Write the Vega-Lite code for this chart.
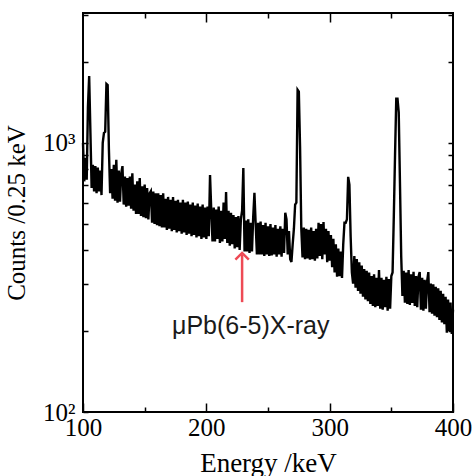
{
  "$schema": "https://vega.github.io/schema/vega-lite/v6.json",
  "width": 370,
  "height": 399,
  "autosize": {"type": "none"},
  "padding": {"left": 83, "top": 13, "right": 20, "bottom": 64},
  "background": "white",
  "config": {
    "view": {"stroke": "black", "strokeWidth": 2},
    "axis": {"domain": false, "grid": false, "tickColor": "black", "tickWidth": 1.5, "labelColor": "black", "titleColor": "black", "labelFont": "Liberation Serif", "titleFont": "Liberation Serif", "titleFontWeight": "normal"}
  },
  "datasets": {
    "spectrum": [
      {"energy":100,"counts":1000},{"energy":101,"counts":720},{"energy":102,"counts":880},{"energy":103,"counts":730},{"energy":104,"counts":1360},{"energy":105,"counts":1774},{"energy":106,"counts":1100},{"energy":107,"counts":680},{"energy":108,"counts":830},{"energy":109,"counts":660},
      {"energy":110,"counts":820},{"energy":111,"counts":650},{"energy":112,"counts":810},{"energy":113,"counts":660},{"energy":114,"counts":790},{"energy":115,"counts":640},{"energy":116,"counts":1000},{"energy":117,"counts":1090},{"energy":118,"counts":1100},{"energy":119,"counts":1656},
      {"energy":120,"counts":1640},{"energy":121,"counts":950},{"energy":122,"counts":650},{"energy":123,"counts":800},{"energy":124,"counts":620},{"energy":125,"counts":830},{"energy":126,"counts":610},{"energy":127,"counts":866},{"energy":128,"counts":600},{"energy":129,"counts":790},
      {"energy":130,"counts":605},{"energy":131,"counts":770},{"energy":132,"counts":820},{"energy":133,"counts":590},{"energy":134,"counts":750},{"energy":135,"counts":580},{"energy":136,"counts":740},{"energy":137,"counts":585},{"energy":138,"counts":750},{"energy":139,"counts":570},
      {"energy":140,"counts":772},{"energy":141,"counts":560},{"energy":142,"counts":700},{"energy":143,"counts":545},{"energy":144,"counts":720},{"energy":145,"counts":545},{"energy":146,"counts":740},{"energy":147,"counts":535},{"energy":148,"counts":690},{"energy":149,"counts":530},
      {"energy":150,"counts":700},{"energy":151,"counts":525},{"energy":152,"counts":680},{"energy":153,"counts":520},{"energy":154,"counts":650},{"energy":155,"counts":662},{"energy":156,"counts":505},{"energy":157,"counts":660},{"energy":158,"counts":500},{"energy":159,"counts":650},
      {"energy":160,"counts":495},{"energy":161,"counts":650},{"energy":162,"counts":490},{"energy":163,"counts":640},{"energy":164,"counts":485},{"energy":165,"counts":650},{"energy":166,"counts":485},{"energy":167,"counts":620},{"energy":168,"counts":475},{"energy":169,"counts":630},
      {"energy":170,"counts":480},{"energy":171,"counts":615},{"energy":172,"counts":470},{"energy":173,"counts":630},{"energy":174,"counts":475},{"energy":175,"counts":610},{"energy":176,"counts":465},{"energy":177,"counts":615},{"energy":178,"counts":470},{"energy":179,"counts":600},
      {"energy":180,"counts":460},{"energy":181,"counts":615},{"energy":182,"counts":465},{"energy":183,"counts":600},{"energy":184,"counts":455},{"energy":185,"counts":605},{"energy":186,"counts":460},{"energy":187,"counts":590},{"energy":188,"counts":450},{"energy":189,"counts":600},
      {"energy":190,"counts":455},{"energy":191,"counts":585},{"energy":192,"counts":445},{"energy":193,"counts":595},{"energy":194,"counts":450},{"energy":195,"counts":580},{"energy":196,"counts":440},{"energy":197,"counts":590},{"energy":198,"counts":445},{"energy":199,"counts":575},
      {"energy":200,"counts":440},{"energy":201,"counts":580},{"energy":202,"counts":450},{"energy":203,"counts":760},{"energy":204,"counts":560},{"energy":205,"counts":430},{"energy":206,"counts":575},{"energy":207,"counts":430},{"energy":208,"counts":565},{"energy":209,"counts":440},
      {"energy":210,"counts":580},{"energy":211,"counts":425},{"energy":212,"counts":560},{"energy":213,"counts":430},{"energy":214,"counts":600},{"energy":215,"counts":440},{"energy":216,"counts":657},{"energy":217,"counts":425},{"energy":218,"counts":560},{"energy":219,"counts":415},
      {"energy":220,"counts":550},{"energy":221,"counts":420},{"energy":222,"counts":540},{"energy":223,"counts":405},{"energy":224,"counts":530},{"energy":225,"counts":410},{"energy":226,"counts":535},{"energy":227,"counts":400},{"energy":228,"counts":520},{"energy":229,"counts":560},
      {"energy":230,"counts":807},{"energy":231,"counts":395},{"energy":232,"counts":515},{"energy":233,"counts":395},{"energy":234,"counts":520},{"energy":235,"counts":390},{"energy":236,"counts":505},{"energy":237,"counts":395},{"energy":238,"counts":530},{"energy":239,"counts":652},
      {"energy":240,"counts":500},{"energy":241,"counts":385},{"energy":242,"counts":505},{"energy":243,"counts":385},{"energy":244,"counts":510},{"energy":245,"counts":385},{"energy":246,"counts":495},{"energy":247,"counts":380},{"energy":248,"counts":505},{"energy":249,"counts":385},
      {"energy":250,"counts":490},{"energy":251,"counts":380},{"energy":252,"counts":500},{"energy":253,"counts":382},{"energy":254,"counts":485},{"energy":255,"counts":385},{"energy":256,"counts":495},{"energy":257,"counts":378},{"energy":258,"counts":480},{"energy":259,"counts":385},
      {"energy":260,"counts":490},{"energy":261,"counts":378},{"energy":262,"counts":480},{"energy":263,"counts":390},{"energy":264,"counts":550},{"energy":265,"counts":520},{"energy":266,"counts":385},{"energy":267,"counts":470},{"energy":268,"counts":370},{"energy":269,"counts":361},
      {"energy":270,"counts":420},{"energy":271,"counts":480},{"energy":272,"counts":590},{"energy":273,"counts":600},{"energy":274,"counts":1574},{"energy":275,"counts":1550},{"energy":276,"counts":966},{"energy":277,"counts":480},{"energy":278,"counts":375},{"energy":279,"counts":485},
      {"energy":280,"counts":370},{"energy":281,"counts":480},{"energy":282,"counts":372},{"energy":283,"counts":475},{"energy":284,"counts":368},{"energy":285,"counts":485},{"energy":286,"counts":370},{"energy":287,"counts":470},{"energy":288,"counts":365},{"energy":289,"counts":480},
      {"energy":290,"counts":372},{"energy":291,"counts":505},{"energy":292,"counts":380},{"energy":293,"counts":500},{"energy":294,"counts":370},{"energy":295,"counts":508},{"energy":296,"counts":385},{"energy":297,"counts":480},{"energy":298,"counts":360},{"energy":299,"counts":470},
      {"energy":300,"counts":365},{"energy":301,"counts":455},{"energy":302,"counts":345},{"energy":303,"counts":440},{"energy":304,"counts":330},{"energy":305,"counts":420},{"energy":306,"counts":318},{"energy":307,"counts":405},{"energy":308,"counts":320},{"energy":309,"counts":395},
      {"energy":310,"counts":315},{"energy":311,"counts":420},{"energy":312,"counts":505},{"energy":313,"counts":505},{"energy":314,"counts":520},{"energy":315,"counts":748},{"energy":316,"counts":700},{"energy":317,"counts":450},{"energy":318,"counts":330},{"energy":319,"counts":300},
      {"energy":320,"counts":380},{"energy":321,"counts":290},{"energy":322,"counts":370},{"energy":323,"counts":282},{"energy":324,"counts":360},{"energy":325,"counts":275},{"energy":326,"counts":350},{"energy":327,"counts":268},{"energy":328,"counts":340},{"energy":329,"counts":262},
      {"energy":330,"counts":335},{"energy":331,"counts":258},{"energy":332,"counts":330},{"energy":333,"counts":252},{"energy":334,"counts":320},{"energy":335,"counts":248},{"energy":336,"counts":325},{"energy":337,"counts":245},{"energy":338,"counts":315},{"energy":339,"counts":248},
      {"energy":340,"counts":337},{"energy":341,"counts":242},{"energy":342,"counts":315},{"energy":343,"counts":240},{"energy":344,"counts":310},{"energy":345,"counts":245},{"energy":346,"counts":318},{"energy":347,"counts":238},{"energy":348,"counts":312},{"energy":349,"counts":242},
      {"energy":350,"counts":320},{"energy":351,"counts":330},{"energy":352,"counts":531},{"energy":353,"counts":900},{"energy":354,"counts":1459},{"energy":355,"counts":1459},{"energy":356,"counts":1300},{"energy":357,"counts":708},{"energy":358,"counts":380},{"energy":359,"counts":270},
      {"energy":360,"counts":335},{"energy":361,"counts":255},{"energy":362,"counts":330},{"energy":363,"counts":252},{"energy":364,"counts":337},{"energy":365,"counts":250},{"energy":366,"counts":325},{"energy":367,"counts":254},{"energy":368,"counts":332},{"energy":369,"counts":248},
      {"energy":370,"counts":320},{"energy":371,"counts":245},{"energy":372,"counts":318},{"energy":373,"counts":331},{"energy":374,"counts":240},{"energy":375,"counts":315},{"energy":376,"counts":238},{"energy":377,"counts":310},{"energy":378,"counts":242},{"energy":379,"counts":305},
      {"energy":380,"counts":331},{"energy":381,"counts":235},{"energy":382,"counts":300},{"energy":383,"counts":232},{"energy":384,"counts":298},{"energy":385,"counts":228},{"energy":386,"counts":292},{"energy":387,"counts":225},{"energy":388,"counts":288},{"energy":389,"counts":220},
      {"energy":390,"counts":282},{"energy":391,"counts":215},{"energy":392,"counts":275},{"energy":393,"counts":212},{"energy":394,"counts":268},{"energy":395,"counts":197},{"energy":396,"counts":262},{"energy":397,"counts":200},{"energy":398,"counts":255},{"energy":399,"counts":195},
      {"energy":400,"counts":240}
    ],
    "note": [
      {"energy": 229, "tip": 390, "base": 256, "stemTop": 384, "label": "μPb(6-5)X-ray", "labelEnergy": 236, "labelCounts": 195}
    ]
  },
  "layer": [
    {
      "data": {"name": "spectrum"},
      "mark": {"type": "line", "color": "black", "strokeWidth": 2.4, "interpolate": "linear"},
      "encoding": {
        "x": {
          "field": "energy", "type": "quantitative",
          "scale": {"domain": [100, 400], "nice": false, "zero": false},
          "axis": {
            "orient": "bottom",
            "values": [100, 150, 200, 250, 300, 350, 400],
            "labelExpr": "datum.value % 100 === 0 ? datum.label : ''",
            "tickSize": {"condition": {"test": "datum.value % 100 === 0", "value": -9}, "value": -5},
            "labelPadding": 12,
            "labelFontSize": 25,
            "labelFlush": false,
            "labelOverlap": false,
            "title": "Energy /keV",
            "titleFontSize": 27,
            "titlePadding": 6
          }
        },
        "y": {
          "field": "counts", "type": "quantitative",
          "scale": {"type": "log", "domain": [100, 3040], "nice": false},
          "axis": {
            "orient": "left",
            "values": [100, 200, 300, 400, 500, 600, 700, 800, 900, 1000, 2000, 3000],
            "labelExpr": "datum.value === 100 ? '10²' : (datum.value === 1000 ? '10³' : '')",
            "tickSize": -5,
            "labelPadding": 13,
            "labelFontSize": 25,
            "labelOverlap": false,
            "title": "Counts /0.25 keV",
            "titleFontSize": 25,
            "titlePadding": 13
          }
        }
      }
    },
    {
      "data": {"name": "spectrum"},
      "mark": {"type": "line", "strokeOpacity": 0},
      "encoding": {
        "x": {
          "field": "energy", "type": "quantitative",
          "axis": {
            "orient": "top",
            "values": [150, 200, 250, 300, 350],
            "labels": false,
            "tickSize": {"condition": {"test": "datum.value % 100 === 0", "value": -9}, "value": -5},
            "title": null
          }
        },
        "y": {
          "field": "counts", "type": "quantitative",
          "axis": {
            "orient": "right",
            "values": [200, 300, 400, 500, 600, 700, 800, 900, 1000, 2000, 3000],
            "labels": false,
            "tickSize": -5,
            "title": null
          }
        }
      }
    },
    {
      "data": {"name": "note"},
      "mark": {"type": "rule", "color": "#ee4a55", "strokeWidth": 2.5},
      "encoding": {
        "x": {"field": "energy", "type": "quantitative", "axis": null},
        "y": {"field": "base", "type": "quantitative", "axis": null},
        "y2": {"field": "stemTop"}
      }
    },
    {
      "data": {"name": "note"},
      "mark": {"type": "point", "shape": "M-1,1L0,0L1,1", "filled": false, "stroke": "#ee4a55", "strokeWidth": 2.5, "size": 180, "opacity": 1},
      "encoding": {
        "x": {"field": "energy", "type": "quantitative", "axis": null},
        "y": {"field": "tip", "type": "quantitative", "axis": null}
      }
    },
    {
      "data": {"name": "note"},
      "mark": {"type": "text", "font": "Liberation Sans", "fontSize": 25, "color": "#1a1a1a", "baseline": "alphabetic", "align": "center"},
      "encoding": {
        "x": {"field": "labelEnergy", "type": "quantitative", "axis": null},
        "y": {"field": "labelCounts", "type": "quantitative", "axis": null},
        "text": {"field": "label"}
      }
    }
  ]
}
